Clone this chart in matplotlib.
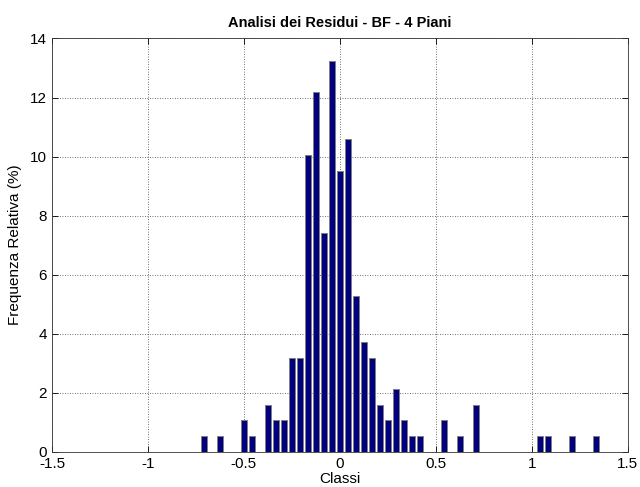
import numpy as np
import matplotlib.pyplot as plt

plt.rcParams.update({
    "font.family": ["Liberation Sans", "DejaVu Sans"],
    "font.size": 10,
})

# 50 classes of the residual histogram (bin centres) and relative frequency in %
centri = np.linspace(-0.707, 1.334, 50)
freq = [0.53, 0.00, 0.53, 0.00, 0.00, 1.06, 0.53, 0.00, 1.59, 1.06,
        1.06, 3.17, 3.17, 10.05, 12.17, 7.41, 13.23, 9.52, 10.58, 5.29,
        3.70, 3.17, 1.59, 1.06, 2.12, 1.06, 0.53, 0.53, 0.00, 0.00,
        1.06, 0.00, 0.53, 0.00, 1.59, 0.00, 0.00, 0.00, 0.00, 0.00,
        0.00, 0.00, 0.53, 0.53, 0.00, 0.00, 0.53, 0.00, 0.00, 0.53]

fig = plt.figure(figsize=(6.4, 4.87), dpi=100)
ax = fig.add_axes([0.0813, 0.0725, 0.8995, 0.8485])

passo = centri[1] - centri[0]
ax.bar(centri, freq, width=0.8 * passo, color="#000080",
       edgecolor="#7f7f7f", linewidth=0.7, zorder=3)

ax.set_xlim(-1.5, 1.5)
ax.set_ylim(0, 14)
ax.set_xticks(np.arange(-1.5, 1.51, 0.5))
ax.set_xticklabels(["-1.5", "-1", "-0.5", "0", "0.5", "1", "1.5"])
ax.set_yticks(np.arange(0, 15, 2))
ax.grid(True, linestyle=(0, (1, 2)), color="#404040", linewidth=0.6, zorder=0)
ax.tick_params(direction="in", length=4, width=0.6, top=True, right=True,
               labelsize=11)
for s in ax.spines.values():
    s.set_linewidth(0.6)
    s.set_color("#333333")

ax.set_title("Analisi dei Residui - BF - 4 Piani", fontsize=10.5,
             fontweight="bold", pad=8)
ax.set_xlabel("Classi", fontsize=11, labelpad=1)
ax.set_ylabel("Frequenza Relativa (%)", fontsize=11, labelpad=6)

fig.savefig("out.png", dpi=100)
